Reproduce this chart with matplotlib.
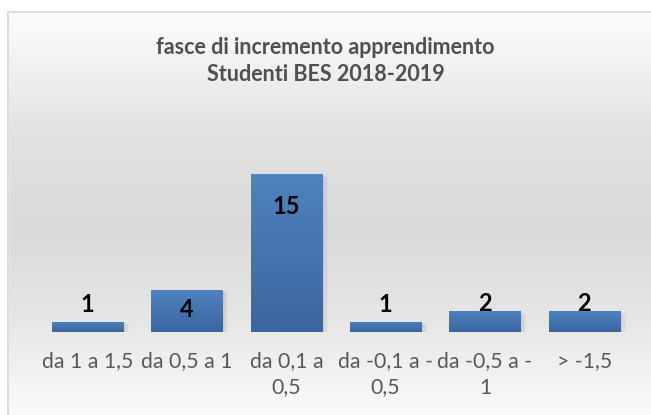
import numpy as np
import matplotlib.pyplot as plt
from matplotlib.colors import LinearSegmentedColormap

# data
categories = ["da 1 a 1,5", "da 0,5 a 1", "da 0,1 a\n0,5", "da -0,1 a -\n0,5",
              "da -0,5 a -\n1", "> -1,5"]
counts = [1, 4, 15, 1, 2, 2]
title = "fasce di incremento apprendimento\nStudenti BES 2018-2019"

plt.rcParams["font.family"] = ["Lato", "DejaVu Sans"]

W, H = 651, 415
fig = plt.figure(figsize=(W / 100, H / 100), dpi=100)

# chart area background: vertical gray gradient
bg = fig.add_axes([0, 0, 1, 1])
bg_cmap = LinearSegmentedColormap.from_list(
    "bg", [(0.0, "#ffffff"), (0.33, "#e2e2e2"), (0.55, "#dadada"),
           (0.77, "#e6e6e6"), (1.0, "#fbfbfb")])
bg.imshow(np.linspace(0, 1, 256).reshape(-1, 1), cmap=bg_cmap, aspect="auto",
          extent=[0, 1, 0, 1], origin="upper")
bg.set_xlim(0, 1)
bg.set_ylim(0, 1)
bg.axis("off")
# white margin above / left of the chart border
bg.add_patch(plt.Rectangle((0, 1 - 12 / H), 1, 12 / H, color="white", zorder=2))
bg.add_patch(plt.Rectangle((0, 0), 8 / W, 1, color="white", zorder=2))
bg.plot([8 / W, 8 / W, 1.01], [-0.01, 1 - 12 / H, 1 - 12 / H],
        color="#d9d9d9", lw=1.3, zorder=3)

# plot area
left, right = 38 / W, 634 / W
bottom, top = 1 - 332 / H, 1 - 164 / H
ax = fig.add_axes([left, bottom, right - left, top - bottom])
ax.patch.set_alpha(0)
x = np.arange(len(counts))
bars = ax.bar(x, counts, width=0.715, color="#4a7ab8", zorder=3)

# vertical gradient fill on each bar
bar_cmap = LinearSegmentedColormap.from_list("bar", ["#3b669f", "#4f82bf"])
grad = np.linspace(0, 1, 100).reshape(-1, 1)
for b in bars:
    x0, y0 = b.get_x(), b.get_y()
    w, h = b.get_width(), b.get_height()
    im = ax.imshow(grad, cmap=bar_cmap, aspect="auto", origin="lower",
                   extent=[x0, x0 + w, y0, y0 + h], zorder=4)
    im.set_clip_path(b)
    # soft shadow to the lower right
    for k in range(1, 6):
        ax.add_patch(plt.Rectangle((x0 + 0.012 * k, y0), w, h - 0.05 * k,
                                   color="black", alpha=0.025, zorder=2, lw=0))
ax.set_xlim(-0.5, len(counts) - 0.5)
ax.set_ylim(0, 16)

for xi, v in zip(x, counts):
    if v >= 4:
        off = -15 if v > 10 else -6
        ax.annotate(str(v), (xi, v), xytext=(0, off), textcoords="offset points",
                    ha="center", va="top", fontsize=17, fontweight="bold",
                    color="black", zorder=6)
    else:
        ax.annotate(str(v), (xi, v), xytext=(0, 4 if v == 1 else -3),
                    textcoords="offset points", ha="center", va="bottom",
                    fontsize=17, fontweight="bold", color="black", zorder=6)

ax.set_xticks(x)
ax.set_xticklabels(categories, fontsize=15.3, color="#595959", linespacing=1.38)
ax.tick_params(axis="x", length=0, pad=14)
ax.set_yticks([])
for s in ax.spines.values():
    s.set_visible(False)

fig.text(0.5, 1 - 61 / H, title, ha="center", va="center", fontsize=15.5,
         fontweight="bold", color="#505050", linespacing=1.4)

fig.savefig("out.png", dpi=100)
